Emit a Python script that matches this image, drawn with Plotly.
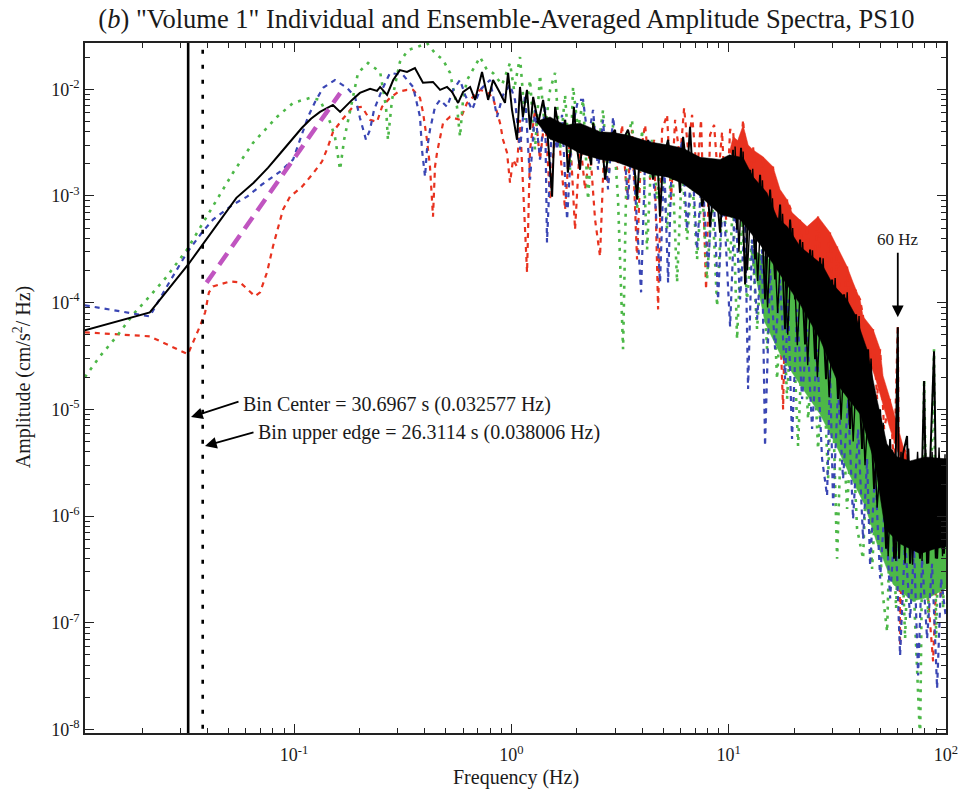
import math
import plotly.graph_objects as go

# ---------------- data ----------------
# Red component
red_low_f = [0.0109, 0.0217, 0.0325, 0.0369, 0.0390, 0.0406, 0.0424, 0.0508, 0.0564, 0.0614,
             0.0661, 0.0698, 0.0751, 0.0800, 0.0844, 0.0890, 0.0958, 0.1088, 0.121, 0.1345,
             0.1433, 0.1512, 0.1663, 0.1848, 0.2055, 0.2237, 0.2409, 0.254, 0.2764, 0.301,
             0.331, 0.353, 0.380, 0.3925, 0.409, 0.4223, 0.436, 0.4454, 0.455, 0.470,
             0.4851, 0.5224, 0.5805, 0.6254, 0.6809, 0.718, 0.773, 0.8236, 0.887, 0.9158,
             0.9554, 0.986, 1.018, 1.062]
red_low_amp = [5.27e-5, 4.84e-5, 3.29e-5, 6.0e-5, 8.13e-5, 1.25e-4, 1.42e-4, 1.58e-4, 1.55e-4, 1.33e-4,
               1.15e-4, 1.25e-4, 1.92e-4, 3.36e-4, 5.16e-4, 7.45e-4, 9.84e-4, 1.22e-3, 1.58e-3, 2.1e-3,
               2.89e-3, 3.99e-3, 5.16e-3, 6.68e-3, 6.83e-3, 5.16e-3, 4.94e-3, 6.83e-3, 8.29e-3, 9.44e-3,
               9.85e-3, 9.85e-3, 8.29e-3, 6.0e-3, 3.36e-3, 1.88e-3, 6.4e-4, 1.88e-3, 2.54e-3, 3.58e-3,
               4.83e-3, 5.51e-3, 5.16e-3, 7.44e-3, 8.85e-3, 9.85e-3, 9.44e-3, 8.29e-3, 4.83e-3, 3.36e-3,
               2.54e-3, 1.33e-3, 2.19e-3, 1.88e-3]
red_mid_f = [1.096, 1.144, 1.181, 1.219, 1.285, 1.355, 1.429, 1.507, 1.589, 1.676,
             1.767, 1.863, 1.964, 2.071, 2.184, 2.303, 2.428, 2.559, 2.671, 2.786,
             2.906, 3.065, 3.232, 3.408, 3.593, 3.788, 3.954, 4.125, 4.349, 4.537,
             4.734, 4.939, 5.208, 5.433, 5.668, 5.976, 6.235, 6.504, 6.785, 7.153,
             7.462, 7.870, 8.212, 8.568, 8.939, 9.324, 9.727, 10.15]
red_mid_amp = [5.16e-3, 9.23e-4, 1.92e-4, 2.71e-3, 6.41e-3, 2.19e-3, 5.75e-3, 9.23e-4, 4.17e-3, 2.71e-3,
               7.45e-4, 3.74e-3, 4.84e-4, 3.36e-3, 1.15e-3, 2.71e-3, 6.0e-4, 2.71e-4, 2.71e-3, 1.28e-3,
               4.17e-3, 1.76e-3, 4.64e-3, 9.23e-4, 4.17e-3, 2.54e-4, 2.71e-3, 4.64e-3, 1.42e-3, 3.36e-3,
               8.65e-5, 4.17e-3, 5.75e-3, 9.23e-4, 5.16e-3, 2.19e-3, 6.68e-3, 2.71e-3, 5.75e-3, 1.58e-3,
               5.16e-3, 1.33e-4, 3.74e-3, 4.64e-3, 1.42e-3, 3.99e-3, 6.0e-4, 4.17e-3]
red_high_f = [10.48, 10.93, 11.65, 12.28, 12.95, 13.65, 14.39, 15.18, 16.0, 16.87,
              17.80, 18.57, 19.57, 20.42, 21.31, 22.23, 22.95, 24.20, 25.78, 27.19,
              29.28, 30.55, 31.54, 33.25, 35.06, 36.58, 38.16, 40.24, 41.54, 43.35,
              46.20, 48.20, 49.75, 51.90, 55.32, 57.70, 60.0, 61.48, 63.47, 66.22,
              69.10, 72.86, 76.0, 80.13, 84.52, 87.22, 91.0, 94.93, 100.0]
red_high_amp = [4.17e-3, 9.23e-4, 5.16e-3, 1.15e-3, 2.89e-3, 7.45e-4, 2.33e-3, 4.84e-4, 1.88e-3, 2.54e-4,
                1.0e-5, 9.23e-4, 6.98e-4, 2.05e-4, 6.0e-4, 1.48e-4, 5.16e-4, 1.33e-4, 6.4e-4, 1.07e-4,
                4.54e-4, 6.98e-5, 3.36e-4, 5.63e-5, 2.18e-4, 3.66e-5, 1.33e-4, 1.07e-4, 7.44e-5, 1.92e-5,
                5.63e-5, 1.25e-5, 3.66e-5, 6.55e-6, 1.25e-5, 2.77e-6, 6.14e-5, 6.14e-8, 4.54e-6, 3.66e-6,
                3.99e-7, 2.23e-6, 1.69e-7, 3.99e-7, 1.1e-7, 4.36e-8, 3.99e-7, 1.69e-7, 3.2e-7]
# dense red cloud above the average, 10-66 Hz (upper / lower edge)
red_band_up_f = [10.1, 10.48, 11.0, 11.65, 12.3, 12.95, 14.39, 16.0, 17.24, 18.57, 19.57, 21.31, 22.95,
                 25.78, 29.28, 31.54, 35.06, 37.36, 40.24, 41.54, 46.20, 49.75, 51.34, 55.32, 59.6,
                 63.47, 66.22]
red_band_up_amp = [2.6e-3, 3.6e-3, 3.3e-3, 4.6e-3, 3.0e-3, 2.7e-3, 2.33e-3, 1.88e-3, 1.15e-3, 9.23e-4,
                   6.98e-4, 6.0e-4, 5.16e-4, 6.4e-4, 4.54e-4, 3.36e-4, 2.18e-4, 1.55e-4, 1.07e-4,
                   7.44e-5, 5.63e-5, 3.66e-5, 2.06e-5, 1.25e-5, 6.98e-6, 4.54e-6, 3.66e-6]
red_band_lo_f = [10.1, 11.0, 12.95, 13.95, 17.24, 21.31, 26.34, 32.6, 40.24, 47.19, 55.32, 61.48, 66.22]
red_band_lo_amp = [2.6e-3, 2.0e-3, 1.3e-3, 1.1e-3, 5.5e-4, 3.0e-4, 2.0e-4, 1.2e-4, 5.0e-5, 2.0e-5,
                   6.5e-6, 3.5e-6, 3.0e-6]

# Blue component
blue_low_f = [0.0109, 0.0217, 0.026, 0.0322, 0.0377, 0.0424, 0.0524, 0.0608, 0.0712, 0.0863,
              0.099, 0.116, 0.1249, 0.136, 0.1543, 0.1753, 0.1909, 0.201, 0.2144, 0.2237,
              0.2334, 0.254, 0.2764, 0.3174, 0.353, 0.380, 0.388, 0.4008, 0.409, 0.4223,
              0.4454, 0.470, 0.506, 0.5393, 0.5805, 0.6123, 0.6594, 0.718, 0.798, 0.8594,
              0.9158, 0.986]
blue_low_amp = [9.44e-5, 7.44e-5, 1.42e-4, 2.95e-4, 4.54e-4, 6.0e-4, 8.3e-4, 9.84e-4, 1.28e-3, 1.69e-3,
                2.19e-3, 5.51e-3, 7.6e-3, 1.03e-2, 1.22e-2, 1.03e-2, 8.48e-3, 5.4e-3, 3.36e-3, 4.17e-3,
                6.41e-3, 9.85e-3, 1.42e-2, 1.36e-2, 1.05e-2, 5.51e-3, 2.71e-3, 1.51e-3, 2.71e-3, 4.17e-3,
                6.83e-3, 7.94e-3, 6.83e-3, 9.85e-3, 1.22e-2, 8.85e-3, 6.41e-3, 9.85e-3, 1.22e-2, 5.51e-3,
                8.85e-3, 1.1e-2]
blue_mid_f = [1.040, 1.096, 1.156, 1.219, 1.285, 1.355, 1.429, 1.459, 1.539, 1.623,
              1.711, 1.805, 1.903, 2.027, 2.138, 2.254, 2.377, 2.506, 2.642, 2.786,
              2.938, 3.097, 3.266, 3.443, 3.593, 3.788, 3.954, 4.125, 4.349, 4.586,
              4.835, 5.045, 5.263, 5.491, 5.789, 6.104, 6.436, 6.785, 7.153, 7.542,
              8.040, 8.478, 8.939, 9.423, 10.15]
blue_mid_amp = [7.94e-3, 2.71e-3, 8.85e-3, 1.42e-3, 6.41e-3, 2.19e-3, 7.13e-3, 3.66e-4, 5.16e-3, 2.71e-3,
                5.75e-3, 6.0e-4, 4.17e-3, 7.94e-3, 7.94e-3, 3.36e-3, 6.41e-3, 1.76e-3, 5.16e-3, 1.15e-3,
                5.51e-3, 2.19e-3, 3.74e-3, 9.23e-4, 3.36e-3, 5.16e-4, 1.25e-4, 2.19e-3, 3.36e-3, 9.23e-4,
                1.55e-4, 2.19e-3, 1.55e-4, 2.71e-3, 1.58e-3, 3.36e-3, 4.84e-4, 2.19e-3, 3.15e-4, 1.76e-3,
                2.05e-4, 1.42e-3, 1.07e-4, 1.15e-3, 6.0e-5]
blue_high_f = [10.70, 11.28, 11.90, 12.28, 12.81, 13.51, 14.24, 14.70, 15.51, 16.35,
               17.24, 18.18, 18.76, 19.57, 20.64, 21.77, 22.95, 24.20, 25.51, 26.90,
               28.37, 29.28, 30.23, 31.87, 33.60, 35.43, 37.36, 39.40, 41.54, 43.35,
               44.75, 47.19, 49.75, 52.46, 55.32, 58.32, 61.48, 64.83, 68.37, 71.33,
               74.41, 77.62, 81.85, 86.30, 91.0, 94.93, 100.0]
blue_high_amp = [9.23e-4, 1.07e-4, 6.0e-4, 1.55e-5, 3.9e-4, 6.98e-5, 3.15e-4, 4.54e-6, 2.05e-4, 3.66e-5,
                 1.65e-4, 1.92e-5, 1.07e-4, 5.28e-6, 8.65e-5, 1.25e-5, 5.63e-5, 6.55e-6, 3.66e-5, 3.44e-6,
                 1.55e-6, 2.38e-5, 1.25e-6, 1.55e-5, 2.23e-6, 1.25e-5, 9.4e-7, 6.55e-6, 6.1e-7, 3.44e-6,
                 3.43e-7, 2.77e-6, 2.6e-7, 1.45e-6, 1.69e-7, 9.4e-7, 4.94e-8, 6.1e-7, 1.1e-7, 4.95e-7,
                 3.21e-8, 3.99e-7, 7.1e-8, 3.58e-7, 2.43e-8, 2.6e-7, 1.1e-7]

# Green component
green_low_f = [0.0109, 0.0128, 0.0153, 0.0182, 0.0217, 0.026, 0.0322, 0.0381, 0.0442, 0.0524,
               0.0648, 0.0835, 0.099, 0.1185, 0.1317, 0.1464, 0.1543, 0.1629, 0.170, 0.1772,
               0.197, 0.219, 0.249, 0.265, 0.2705, 0.2823, 0.307, 0.3346, 0.368, 0.409,
               0.4454, 0.4851, 0.5224, 0.5624, 0.5805, 0.5993, 0.6254, 0.718, 0.773, 0.8236,
               0.906, 0.986]
green_low_amp = [2.0e-5, 3.15e-5, 4.84e-5, 7.78e-5, 1.15e-4, 1.76e-4, 3.15e-4, 5.62e-4, 9.23e-4, 1.65e-3,
                 3.15e-3, 5.5e-3, 7.44e-3, 8.29e-3, 7.94e-3, 4.94e-3, 3.58e-3, 1.76e-3, 3.36e-3, 4.94e-3,
                 1.42e-2, 1.76e-2, 1.45e-2, 6.83e-3, 3.36e-3, 7.94e-3, 1.8e-2, 2.33e-2, 2.48e-2, 2.71e-2,
                 2.18e-2, 1.88e-2, 1.42e-2, 6.83e-3, 3.58e-3, 7.94e-3, 1.22e-2, 2.0e-2, 1.51e-2, 1.42e-2,
                 1.1e-2, 1.76e-2]
green_mid_f = [1.029, 1.096, 1.156, 1.219, 1.285, 1.355, 1.429, 1.507, 1.589, 1.676,
               1.767, 1.863, 1.923, 2.027, 2.138, 2.254, 2.377, 2.506, 2.642, 2.786,
               2.938, 3.097, 3.266, 3.408, 3.593, 3.788, 3.996, 4.213, 4.442, 4.684,
               4.939, 5.208, 5.491, 5.789, 6.104, 6.436, 6.785, 7.153, 7.542, 7.953,
               8.388, 8.845, 9.324, 10.15]
green_mid_amp = [9.85e-3, 2.0e-2, 5.16e-3, 1.22e-2, 2.71e-3, 1.36e-2, 4.17e-3, 9.85e-3, 1.42e-2, 2.71e-3,
                 8.85e-3, 1.76e-3, 1.05e-2, 4.17e-3, 7.94e-3, 9.23e-4, 5.16e-3, 2.71e-3, 6.41e-3, 1.42e-3,
                 4.64e-3, 9.23e-4, 3.66e-5, 3.36e-3, 5.16e-3, 7.45e-4, 4.17e-3, 3.15e-4, 3.36e-3, 9.23e-4,
                 3.01e-3, 4.84e-4, 2.19e-3, 1.55e-4, 1.96e-3, 3.9e-4, 1.58e-3, 2.54e-4, 1.28e-3, 1.65e-4,
                 1.03e-3, 9.23e-5, 9.23e-4, 2.54e-4]
green_high_f = [10.48, 10.93, 11.52, 12.15, 12.81, 13.51, 14.24, 15.02, 15.84, 16.70,
                17.62, 18.57, 19.57, 20.86, 22.0, 23.20, 24.45, 25.78, 27.19, 28.67,
                29.91, 31.54, 33.25, 35.06, 36.97, 38.98, 41.54, 43.35, 45.71, 48.20,
                50.81, 53.59, 55.91, 58.94, 61.48, 64.83, 68.37, 72.09, 76.0, 79.29,
                82.72, 88.1, 90.05, 93.93, 96.96, 100.0]
green_high_amp = [9.23e-4, 4.54e-5, 6.0e-4, 1.07e-4, 3.9e-4, 5.63e-5, 3.15e-4, 3.66e-5, 2.29e-4, 1.92e-5,
                  1.65e-4, 1.25e-5, 1.07e-4, 4.54e-6, 6.98e-5, 8.1e-6, 4.54e-5, 4.26e-6, 2.95e-5, 2.23e-6,
                  2.38e-5, 3.99e-7, 1.25e-5, 1.17e-6, 8.1e-6, 7.6e-7, 3.99e-7, 4.26e-6, 3.2e-7, 2.77e-6,
                  2.1e-7, 8.24e-8, 2.23e-6, 1.36e-7, 1.8e-6, 7.1e-8, 2.23e-6, 9.86e-8, 8.0e-9, 1.92e-5,
                  1.1e-7, 3.66e-5, 7.1e-8, 2.77e-6, 1.36e-7, 2.23e-6]
# dense green cloud below the average, 12-100 Hz
green_band_up_f = [12.55, 15.51, 19.17, 23.69, 29.28, 36.19, 44.75, 52.46, 61.48, 76.0, 100.0]
green_band_up_amp = [3.2e-4, 2.54e-4, 1.33e-4, 6.98e-5, 4.07e-5, 1.92e-5, 8.1e-6, 3.44e-6,
                     2.48e-6, 2.77e-6, 2.77e-6]
green_band_lo_f = [12.55, 14.70, 17.24, 21.31, 26.34, 31.21, 36.19, 42.44, 48.20, 57.09, 69.82,
                   84.52, 100.0]
green_band_lo_amp = [3.2e-4, 6.5e-5, 3.3e-5, 1.7e-5, 9.0e-6, 4.6e-6, 2.4e-6, 1.25e-6,
                     5.5e-7, 2.3e-7, 1.6e-7, 1.75e-7, 2.1e-7]

# Black: ensemble average
black_low_f = [0.0109, 0.0217, 0.0326, 0.0434, 0.0543, 0.0652, 0.076, 0.0869, 0.098, 0.1088,
               0.1197, 0.1317, 0.151, 0.163, 0.185, 0.201, 0.224, 0.241, 0.249, 0.268,
               0.286, 0.307, 0.331, 0.360, 0.392, 0.436, 0.470, 0.506, 0.533, 0.569,
               0.600, 0.646, 0.681, 0.733, 0.782, 0.824, 0.887, 0.935, 0.966, 1.007]
black_low_amp = [5.5e-5, 8.1e-5, 2.28e-4, 5.16e-4, 9.6e-4, 1.33e-3, 1.84e-3, 2.54e-3, 3.36e-3, 4.35e-3,
                 5.28e-3, 6.13e-3, 7.12e-3, 6.13e-3, 7.94e-3, 9.23e-3, 1.01e-2, 9.64e-3, 1.05e-2, 8.85e-3,
                 1.22e-2, 1.51e-2, 1.45e-2, 1.58e-2, 1.15e-2, 1.17e-2, 9.85e-3, 1.05e-2, 9.44e-3, 7.44e-3,
                 9.44e-3, 1.05e-2, 7.94e-3, 1.45e-2, 7.94e-3, 1.22e-2, 9.23e-3, 7.44e-3, 1.42e-2, 6.41e-3]
black_mid_f = [1.062, 1.096, 1.13, 1.18, 1.22, 1.26, 1.33, 1.40, 1.46, 1.54,
               1.59, 1.68, 1.77, 1.82, 1.90, 1.94, 2.01, 2.07, 2.14, 2.23,
               2.33, 2.38, 2.48, 2.61, 2.70, 2.85, 3.00, 3.10, 3.27, 3.44,
               3.63, 3.79, 3.91, 4.12, 4.26, 4.49, 4.68, 4.83, 4.99, 5.26,
               5.55, 5.79, 5.97, 6.17, 6.44, 6.64, 6.86, 7.23, 7.55, 7.96,
               8.21, 8.65, 9.13, 9.61, 10.1]
black_mid_amp = [3.36e-3, 1.05e-2, 5.51e-3, 9.85e-3, 4.17e-3, 8.48e-3, 4.83e-3, 7.94e-3, 4.44e-3, 9.84e-4,
                 6.83e-3, 3.58e-3, 5.16e-3, 1.65e-3, 3.36e-3, 6.83e-3, 2.71e-3, 1.76e-3, 4.17e-3, 3.36e-3,
                 1.96e-3, 4.83e-3, 2.71e-3, 3.36e-3, 1.42e-3, 3.58e-3, 4.17e-3, 2.19e-3, 3.36e-3, 4.17e-3,
                 2.71e-3, 9.23e-4, 2.71e-3, 1.88e-3, 3.36e-3, 1.42e-3, 2.89e-3, 6.4e-4, 2.19e-3, 3.36e-3,
                 1.42e-3, 2.71e-3, 1.07e-3, 3.58e-3, 1.65e-3, 4.44e-3, 1.33e-3, 2.33e-3, 7.94e-4, 1.42e-3,
                 5.16e-4, 1.65e-3, 4.53e-4, 2.19e-3, 9.23e-4]
black_high_f = [10.48, 10.93, 11.40, 11.90, 12.55, 13.23, 13.95, 14.71, 15.51, 16.35,
                17.24, 18.18, 19.17, 20.21, 21.31, 22.47, 23.69, 24.98, 26.34, 28.06,
                29.91, 31.87, 33.96, 36.19, 38.57, 41.10, 43.80, 46.67, 49.74, 53.0,
                55.3, 57.7, 60.0, 60.8, 63.4, 66.2, 68.3, 72.0, 75.9, 79.3,
                81.8, 84.5, 88.1, 91.0, 94.9, 97.9, 100.0]
black_high_amp = [2.71e-3, 4.84e-4, 2.82e-3, 1.48e-4, 1.76e-3, 2.54e-4, 1.58e-3, 1.07e-4, 1.15e-3, 1.65e-4,
                  8.3e-4, 5.63e-5, 6.0e-4, 1.07e-4, 3.9e-4, 4.07e-5, 3.15e-4, 2.95e-5, 2.65e-4, 1.92e-5,
                  1.65e-4, 1.25e-5, 1.2e-4, 6.55e-6, 7.78e-5, 4.26e-6, 3.66e-5, 1.8e-6, 1.0e-5, 4.95e-7,
                  5.28e-6, 3.99e-7, 5.87e-5, 3.99e-7, 3.83e-6, 5.64e-6, 3.58e-7, 2.77e-6, 3.99e-7, 1.84e-5,
                  3.58e-7, 3.08e-6, 3.51e-5, 3.99e-7, 2.77e-6, 4.45e-7, 3.44e-6]
# extra spikes of the average between the points above, 10-100 Hz
black_spike_f = [10.7, 11.15, 11.65, 12.2, 12.9, 13.6, 14.3, 15.1, 15.9, 16.8,
                 17.7, 18.7, 19.7, 20.7, 21.9, 23.1, 24.3, 25.6, 27.2, 29.0,
                 30.9, 32.9, 35.1, 37.4, 39.8, 42.4, 45.2, 48.2, 51.4, 54.2,
                 56.5, 58.8, 62.1, 64.8, 67.3, 70.1, 74.0, 77.6, 80.6, 83.1,
                 86.3, 89.5, 92.9, 96.4, 99.0]
black_spike_amp = [2.9e-3, 3.0e-4, 2.6e-3, 2.0e-4, 1.8e-3, 1.6e-4, 1.4e-3, 9.0e-5, 9.5e-4, 8.0e-5,
                   6.8e-4, 5.0e-5, 5.0e-4, 4.0e-5, 3.7e-4, 2.6e-5, 3.1e-4, 2.0e-5, 2.6e-4, 1.3e-5,
                   1.7e-4, 8.0e-6, 1.25e-4, 5.0e-6, 7.5e-5, 3.0e-6, 3.0e-5, 1.2e-6, 7.5e-6, 4.2e-7,
                   4.2e-6, 3.8e-7, 4.0e-6, 3.6e-7, 4.3e-6, 3.5e-7, 4.0e-6, 3.8e-7, 4.2e-6, 3.6e-7,
                   4.0e-6, 4.0e-7, 4.4e-6, 4.2e-7, 3.8e-6]
# dense core of the average, 1.3-100 Hz (upper / lower edge)
black_band_up_f = [1.30, 1.507, 1.77, 2.07, 2.56, 3.0, 3.44, 4.35, 5.26, 6.17, 7.38, 9.13, 10.1, 11.65,
                   12.95, 15.0, 16.7, 18.6, 21.3, 24.4, 26.9, 30.2, 35.0, 38.1, 43.3, 48.1, 53.5,
                   59.6, 68.4, 80.0, 100.0]
black_band_up_amp = [5.0e-3, 5.5e-3, 4.6e-3, 4.8e-3, 4.0e-3, 3.9e-3, 3.7e-3, 3.2e-3, 3.0e-3, 2.8e-3,
                     2.3e-3, 2.2e-3, 2.43e-3, 2.28e-3, 1.51e-3, 1.07e-3, 6.27e-4, 5.16e-4, 3.36e-4,
                     2.65e-4, 2.28e-4, 1.48e-4, 1.07e-4, 7.78e-5, 3.66e-5, 1.25e-5, 4.74e-6, 3.59e-6,
                     3.29e-6, 3.59e-6, 3.44e-6]
black_band_lo_f = [1.30, 1.507, 1.77, 2.07, 2.56, 3.0, 3.44, 4.35, 5.26, 6.17, 7.38, 9.13, 11.28, 13.95,
                   17.24, 21.31, 26.34, 32.6, 40.24, 47.19, 52.46, 61.48, 76.0, 89.1, 100.0]
black_band_lo_amp = [5.0e-3, 3.4e-3, 3.0e-3, 2.5e-3, 2.2e-3, 2.1e-3, 1.9e-3, 1.6e-3, 1.5e-3, 1.3e-3,
                     1.0e-3, 6.7e-4, 6.0e-4, 3.51e-4, 1.84e-4, 9.64e-5, 4.54e-5, 1.58e-5, 9.04e-6,
                     3.08e-6, 7.6e-7, 5.5e-7, 4.45e-7, 4.95e-7, 5.17e-7]

# Magenta dashed fit
fit_f = [0.0396, 0.163]
fit_amp = [1.54e-4, 9.2e-3]

# Marked frequencies
bin_center_hz = 0.032577
bin_upper_hz = 0.038006
hum_hz = 60.0

x_tick_vals = [0.1, 1, 10, 100]
x_tick_text = ["10<sup>-1</sup>", "10<sup>0</sup>", "10<sup>1</sup>", "10<sup>2</sup>"]
y_tick_vals = [1e-8, 1e-7, 1e-6, 1e-5, 1e-4, 1e-3, 1e-2]
y_tick_text = ["10<sup>-8</sup>", "10<sup>-7</sup>", "10<sup>-6</sup>", "10<sup>-5</sup>",
               "10<sup>-4</sup>", "10<sup>-3</sup>", "10<sup>-2</sup>"]

# ---------------- figure ----------------
RED = "#E8321F"
BLUE = "#3A46B4"
GREEN = "#4DB848"
BLACK = "#000000"
MAGENTA = "#C055C0"
FONT = "Liberation Serif"
TXT = "#1a1a1a"
Y_LO, Y_HI = -8.032, -1.567

fig = go.Figure()


def band(fu, au, fl, al, color):
    fig.add_trace(go.Scatter(x=fu + fl[::-1], y=au + al[::-1], mode="lines", fill="toself",
                             fillcolor=color, line=dict(width=0.5, color=color),
                             hoverinfo="skip", showlegend=False))


def series(f, a, color, width, dash):
    fig.add_trace(go.Scatter(x=f, y=a, mode="lines", line=dict(color=color, width=width, dash=dash),
                             hoverinfo="skip", showlegend=False))


band(red_band_up_f, red_band_up_amp, red_band_lo_f, red_band_lo_amp, RED)
series(red_low_f + red_mid_f + red_high_f, red_low_amp + red_mid_amp + red_high_amp, RED, 2.2, "5px,5px")
band(green_band_up_f, green_band_up_amp, green_band_lo_f, green_band_lo_amp, GREEN)
series(green_low_f + green_mid_f + green_high_f, green_low_amp + green_mid_amp + green_high_amp,
       GREEN, 2.6, "3px,6px")
series(blue_low_f + blue_mid_f + blue_high_f, blue_low_amp + blue_mid_amp + blue_high_amp,
       BLUE, 2.2, "5px,5px")
band(black_band_up_f, black_band_up_amp, black_band_lo_f, black_band_lo_amp, BLACK)
series(black_spike_f, black_spike_amp, BLACK, 1.4, "solid")
series(black_low_f + black_mid_f + black_high_f, black_low_amp + black_mid_amp + black_high_amp,
       BLACK, 2.0, "solid")
series(fit_f, fit_amp, MAGENTA, 4.5, "14px,8px")

# vertical marker lines spanning the full y range
span = [10 ** (Y_LO - 0.1), 10 ** (Y_HI + 0.1)]
series([bin_center_hz, bin_center_hz], span, BLACK, 2.6, "solid")
series([bin_upper_hz, bin_upper_hz], span, BLACK, 2.6, "4px,11px")

minor_x = [k * 10.0 ** n for n in range(-2, 2) for k in range(2, 10)]
minor_y = [k * 10.0 ** n for n in range(-9, -1) for k in range(2, 10)]

axis_common = dict(type="log", showgrid=False, zeroline=False, showline=True, linecolor="#222",
                   linewidth=1.5, mirror="allticks", ticks="inside", ticklen=9, tickwidth=1.3,
                   tickcolor="#222", tickfont=dict(family=FONT, size=18, color=TXT))

fig.update_xaxes(**axis_common, range=[math.log10(0.01092), 2.0], tickvals=x_tick_vals, ticktext=x_tick_text,
                 ticklabelstandoff=5,
                 minor=dict(ticks="inside", ticklen=5, tickwidth=1.1, tickcolor="#222", tickvals=minor_x))
fig.update_yaxes(**axis_common, range=[Y_LO, Y_HI], tickvals=y_tick_vals, ticktext=y_tick_text,
                 minor=dict(ticks="inside", ticklen=5, tickwidth=1.1, tickcolor="#222", tickvals=minor_y))

annotations = [
    dict(text="Frequency (Hz)", xref="paper", yref="paper", x=0.5, y=-0.065, xanchor="center",
         yanchor="middle", showarrow=False, font=dict(family=FONT, size=20, color=TXT)),
    dict(text="Amplitude (cm/s<sup>2</sup>/ Hz)", xref="paper", yref="paper", x=-0.0732, y=0.517,
         xanchor="center", yanchor="middle", textangle=-90, showarrow=False,
         font=dict(family=FONT, size=20, color=TXT)),
    dict(text="Bin Center = 30.6967 s (0.032577 Hz)", xref="x", yref="y", x=-1.244, y=-4.950,
         xanchor="left", yanchor="middle", showarrow=False, font=dict(family=FONT, size=20, color=TXT)),
    dict(text="Bin upper edge = 26.3114 s (0.038006 Hz)", xref="x", yref="y", x=-1.175, y=-5.212,
         xanchor="left", yanchor="middle", showarrow=False, font=dict(family=FONT, size=20, color=TXT)),
    dict(text="", xref="x", yref="y", x=-1.474, y=-5.072, ax=49, ay=-16, showarrow=True,
         arrowhead=2, arrowsize=1.3, arrowwidth=1.8, arrowcolor=BLACK),
    dict(text="", xref="x", yref="y", x=-1.4096, y=-5.343, ax=50, ay=-14, showarrow=True,
         arrowhead=2, arrowsize=1.3, arrowwidth=1.8, arrowcolor=BLACK),
    dict(text="60 Hz", xref="x", yref="y", x=math.log10(hum_hz), y=-3.408, xanchor="center",
         yanchor="middle", showarrow=False, font=dict(family=FONT, size=17, color=TXT)),
    dict(text="", xref="x", yref="y", x=math.log10(hum_hz), y=-4.137, ax=0, ay=-66, showarrow=True,
         arrowhead=2, arrowsize=1.3, arrowwidth=1.8, arrowcolor=BLACK),
]

fig.update_layout(
    width=960, height=791, autosize=False,
    margin=dict(l=85, r=14, t=43, b=58, autoexpand=False),
    paper_bgcolor="white", plot_bgcolor="white",
    showlegend=False,
    font=dict(family=FONT, size=17, color=TXT),
    title=dict(text='(<i>b</i>) "Volume 1" Individual and Ensemble-Averaged Amplitude Spectra, PS10',
               x=0.5276, xanchor="center", y=0.976, yanchor="middle",
               font=dict(family=FONT, size=26.5, color=TXT)),
    annotations=annotations,
)

fig.write_html("out.html", config={"responsive": False})
